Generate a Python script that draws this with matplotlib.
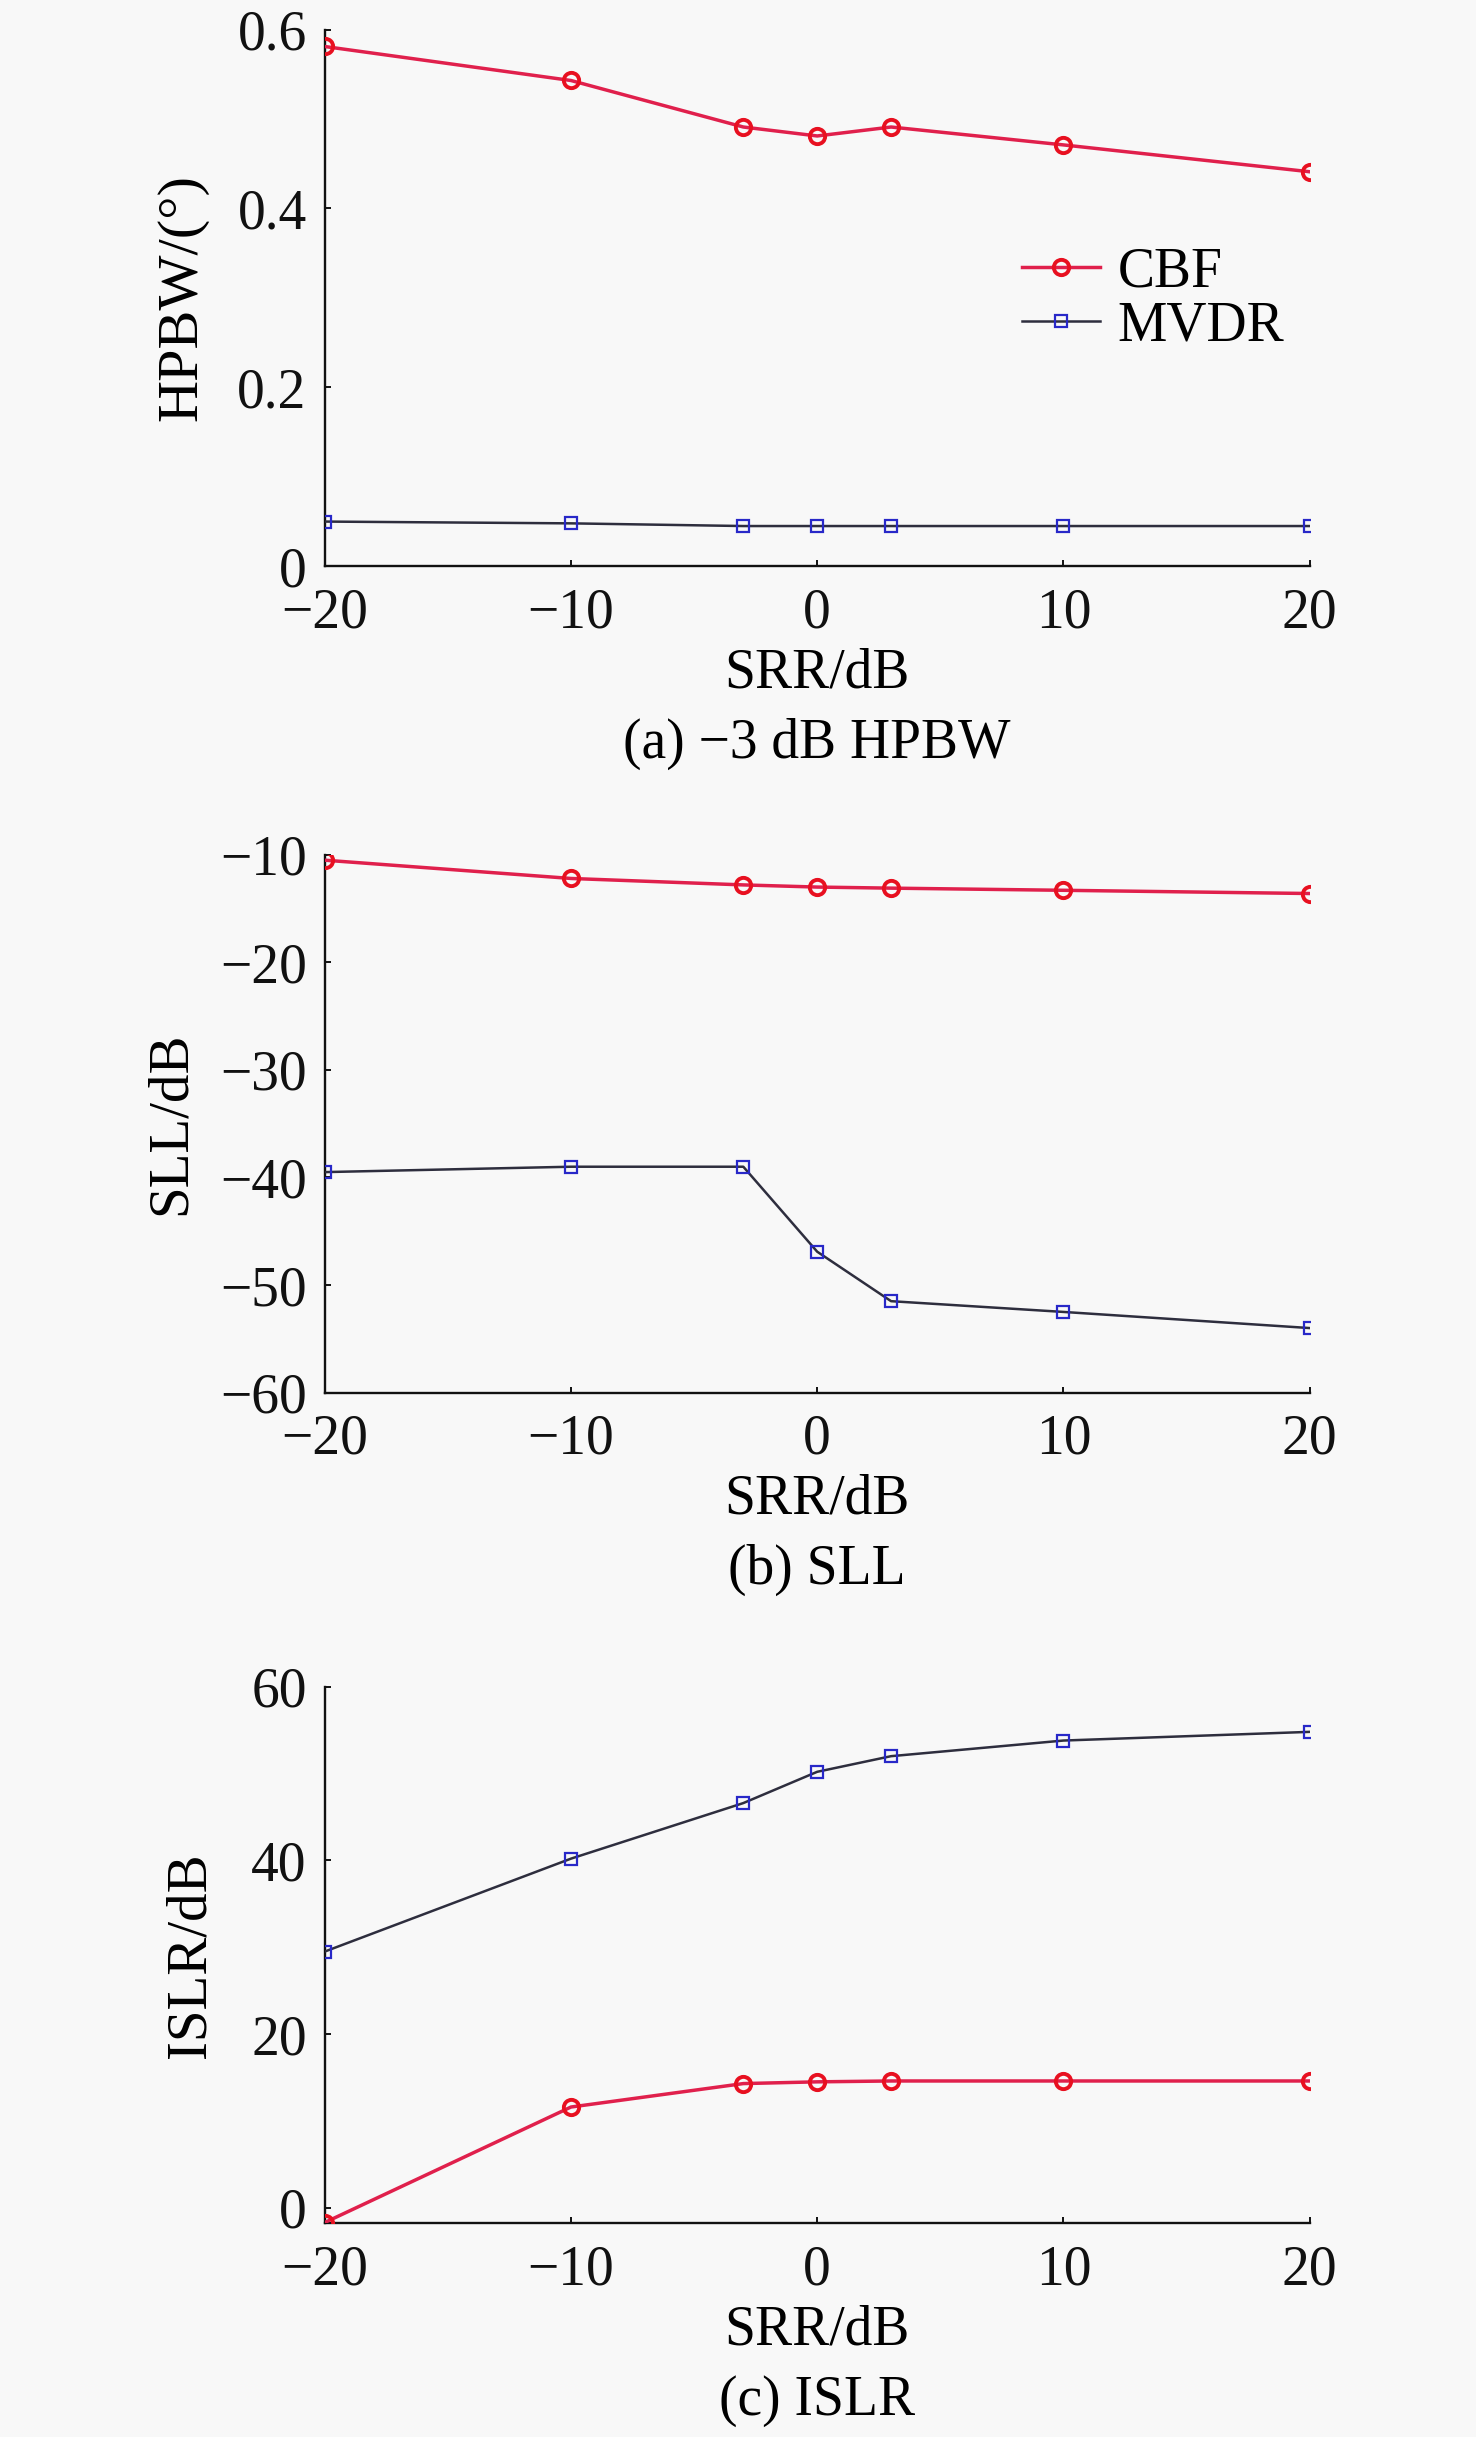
import matplotlib
matplotlib.use("Agg")
import matplotlib.pyplot as plt

plt.rcParams['font.family'] = ['Liberation Serif', 'DejaVu Serif']
plt.rcParams['axes.unicode_minus'] = True

srr = [-20, -10, -3, 0, 3, 10, 20]
xticks = [-20, -10, 0, 10, 20]

hpbw_cbf = [0.581, 0.543, 0.491, 0.481, 0.491, 0.471, 0.441]
hpbw_mvdr = [0.050, 0.048, 0.045, 0.045, 0.045, 0.045, 0.045]

sll_cbf = [-10.5, -12.2, -12.8, -13.0, -13.1, -13.3, -13.6]
sll_mvdr = [-39.5, -39.0, -39.0, -46.9, -51.5, -52.5, -54.0]

islr_cbf = [-1.7, 11.6, 14.3, 14.5, 14.6, 14.6, 14.6]
islr_mvdr = [29.5, 40.2, 46.6, 50.2, 52.0, 53.8, 54.8]

series_names = ['CBF', 'MVDR']
ylabels = ['HPBW/(°)', 'SLL/dB', 'ISLR/dB']
captions = ['(a) −3 dB HPBW', '(b) SLL', '(c) ISLR']
xlabel = 'SRR/dB'

W, H = 1476, 2437
BG = '#f8f8f8'
fig = plt.figure(figsize=(W / 100, H / 100), dpi=100)
fig.patch.set_facecolor(BG)

FS = 40
left = 324.7 / W
width = 985 / W
# (top_px, bottom_px)
boxes = [(29.5, 566.3), (854.8, 1392.6), (1686.7, 2223.4)]
ylims = [(0, 0.6), (-60, -10), (-1.8, 60)]
yticks = [[0, 0.2, 0.4, 0.6], [-60, -50, -40, -30, -20, -10], [0, 20, 40, 60]]
ytick_labels = [['0', '0.2', '0.4', '0.6'], None, None]
ylabel_x = [-0.144, -0.156, -0.136]
ylabel_fs = [42, 41, 41]
data = [(hpbw_cbf, hpbw_mvdr), (sll_cbf, sll_mvdr), (islr_cbf, islr_mvdr)]

red_line = '#e0204c'
red_mark = '#e81020'
mv_line = '#2e2e3e'
mv_mark = '#2828c8'

for i in range(3):
    t, b = boxes[i]
    ax = fig.add_axes([left, 1 - b / H, width, (b - t) / H])
    cbf, mv = data[i]
    ax.plot(srr, cbf, color=red_line, lw=2.5, marker='o', ms=11,
            mfc='none', mec=red_mark, mew=2.8, label=series_names[0], zorder=3)
    ax.plot(srr, mv, color=mv_line, lw=1.8, marker='s', ms=8.5,
            mfc='none', mec=mv_mark, mew=1.6, label=series_names[1], zorder=3)
    ax.set_xlim(-20, 20)
    ax.set_ylim(*ylims[i])
    ax.set_xticks(xticks)
    ax.set_yticks(yticks[i])
    if ytick_labels[i] is not None:
        ax.set_yticklabels(ytick_labels[i])
    for s in ['top', 'right']:
        ax.spines[s].set_visible(False)
    for s in ['left', 'bottom']:
        ax.spines[s].set_linewidth(1.7)
        ax.spines[s].set_color('#111111')
    ax.tick_params(direction='in', length=4.5, width=1.4, labelsize=FS,
                   pad=13, colors='#111111')
    ax.tick_params(axis='x', pad=15)
    ax.set_facecolor('none')
    ax.set_ylabel(ylabels[i], fontsize=ylabel_fs[i])
    ax.yaxis.set_label_coords(ylabel_x[i], 0.5)
    ax.yaxis.label.set_va('center')
    h = b - t
    ax.set_xlabel(xlabel, fontsize=FS)
    ax.xaxis.set_label_coords(0.5, -107 / h)
    ax.xaxis.label.set_va('center')
    ax.text(0.5, -177.7 / h, captions[i], transform=ax.transAxes,
            ha='center', va='center', fontsize=FS)
    for sp in ax.spines.values():
        sp.set_zorder(2)
    if i == 0:
        ax.legend(loc='upper left', bbox_to_anchor=(0.708, 0.595),
                  frameon=False, fontsize=FS, handlelength=1.4,
                  handletextpad=0.32, labelspacing=0.02, borderpad=0,
                  borderaxespad=0)

fig.savefig('out.png', dpi=100, facecolor=BG)
